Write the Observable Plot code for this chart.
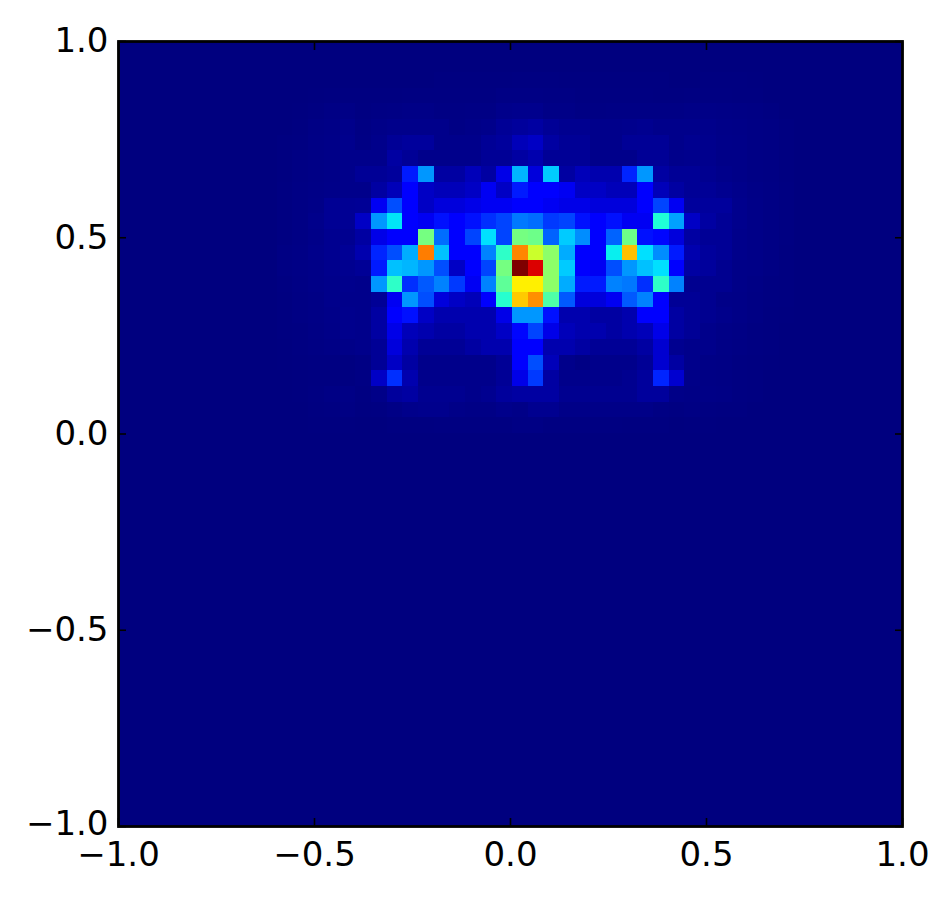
<!DOCTYPE html>
<html>
<head>
<meta charset="utf-8">
<style>html,body{margin:0;padding:0;background:#fff}svg{display:block}</style>
<script src="https://cdn.jsdelivr.net/npm/d3@7"></script>
<script src="https://cdn.jsdelivr.net/npm/@observablehq/plot@0.6"></script>
</head>
<body>
<div id="chart"></div>
<script>
const gridSize = 50;
const firstRow = 2;
const firstCol = 10;
// intensity (percent of maximum); columns 10..42, rows 2..24
const intensityRows = [
  [0,0,0,0,0, 0,0,0,0,0,.2,.2,.2,.2,.2,.3,.3,.3,.2,.2,.2,.2,.2,.2,.2,0,0, .2,.2,.2,.1,0,0,0],
  [0,0,.1,.2,.2, .2,.2,.2,.3,.3,.3,.3,.3,.3,.5,.5,.5,.4,.4,.3,.3,.3,.3,.3,.2,.2, .3,.3,.3,.2,.2,0,0],
  [0,.1,.3,.5,.6, .3,.4,.5,.7,.7,.4,.4,.5,.5,1,1.2,1.2,.7,.7,.4,.4,.5,.5,.5,.5,.5, .7,.7,.6,.5,.4,.3,0],
  [0,.2,.5,.7,1, .4,.8,1,1,1,1,.5,.8,1,2,2.5,3,2,1.5,1.5,1,1,1.2,1.5,1,1, 1,1,.8,.7,.5,.4,.2],
  [.2,.3,.6,.8,1.2, .5,1,2,2.5,2.5,1,1,1,2,2.5,5,6,3,2,2,1,1,2,2,2,1, 1.5,1.2,.9,.8,.5,.4,.2],
  [.2,.4,.6,.8,1, 1,1,3,2,1,1,1,1,2,2,3,4,2,2,2,1,1,1,2,2,1, 1.2,1.2,.8,.8,.5,.4,.2],
  [.2,.4,.6,.8,1, 2,2,2.5,15,27,3,3,5,3,9,30,8,32,3,5,4,4,16,27,3,2, 2,1.5,1,.8,.5,.4,.2],
  [.3,.5,.7,.9,1, 1,3,5,11,6,5,5,6,10,6,15,11,12,10,6,6,5,5,11,5,3, 2,2,1.5,1,.7,.5,.3],
  [.3,.5,.8,1.8,1.8, 2,10,20,12,6,8,8,9,10,10,12,12,10,9,9,8,8,8,12,19,10, 2.5,2.5,2.5,1.2,.8,.5,.3],
  [.3,.5,1,1.8,1.8, 6,27,35,12,10,14,12,14,17,19,24,23,18,19,14,12,14,10,10,39,28, 6,3,2,1.2,.8,.5,.3],
  [.3,.5,.9,1.5,1.5, 3,9,12,12,50,23,12,19,34,19,50,49,22,32,26,12,22,49,14,13,8, 3,2,2,1,.8,.5,.3],
  [.4,.6,1,1.5,2, 4,16,20,29,78,31,12,12,25,41,77,61,53,29,12,12,36,71,34,26,15, 4,2.5,2,1,.8,.5,.2],
  [.4,.6,.8,1.2,1.5, 2,15,31,30,27,20,6,11,19,50,100,92,53,32,12,10,20,27,31,34,12, 3,2.5,1.5,.8,.7,.4,.2],
  [.3,.5,.8,1,1.2, 1,27,41,17,21,25,18,10,25,47,66,66,53,29,15,15,25,24,17,41,25, 1.5,1.5,1.5,.8,.5,.3,.2],
  [.2,.4,.6,1,1, 1,2,10,27,20,8,6,5,12,40,70,76,45,21,8,8,10,21,25,12,2, 2,1.5,.8,.7,.4,.3,.2],
  [.2,.4,.6,.9,1.2, 1,3,11,14,6,4,4,4,4,9,27,27,14,4,4,3,3,4,12,12,3, 2,1.5,1,.7,.4,.2,.1],
  [.2,.3,.5,.8,1.2, 1,3,9,5,4,3,3,4,4,6,13,19,9,5,4,4,3,4,5,9,3, 2,1,.7,.5,.3,.2,0],
  [.1,.3,.4,.6,.8, 1,2,8,4,2,2,2,3,4,4,11,12,4,4,3,2,2,2,3,7,1.5, 1,1,.6,.4,.3,.2,0],
  [.1,.2,.3,.3,.2, .4,2,6,3,1,1,1,1,1,2,12,20,5,1,.5,1,1,1,2,7,3, 1,.6,.5,.3,.2,.1,0],
  [0,.1,.2,.2,.2, .4,6,17,4,1,1,1,1,1,2,9,18,3,1,1,1,1,1.5,2.5,16,7, .8,.5,.4,.3,.2,0,0],
  [0,.1,.3,.5,.6, .3,.8,2.5,3,1.5,1.5,1.5,1,1.5,2.5,3,3,3,1.5,1.5,1.5,1.5,1.5,2.5,2.5,.8, .6,.6,.5,.3,.2,0,0],
  [0,0,.2,.3,.4, .2,.3,.6,1,1.2,1.2,.8,.6,.6,1,.8,1.5,1.5,.8,.8,.8,.8,.8,.8,.4,.3, .4,.3,.2,.2,0,0,0],
  [0,0,.1,.1,.1, 0,0,.2,.2,.2,.3,.3,.3,.3,.3,.5,.5,.3,.3,.3,.3,.3,.2,.2,.2,0, .1,.1,0,0,0,0,0]
];
const jetStops = [0, 11, 12.5, 34, 35, 37.5, 64, 66, 89, 91, 100];
const jetColors = ["#00007f","#0000ff","#0000ff","#00e0ff","#00e5f7","#13ffe3","#e3ff13","#fff000","#ff1300","#e80000","#7f0000"];
const axisTicks = [-1, -0.5, 0, 0.5, 1];

const values = new Array(gridSize * gridSize).fill(0);
intensityRows.forEach((row, r) => row.forEach((v, c) => {
  values[(r + firstRow) * gridSize + c + firstCol] = v;
}));

const fmt = d3.format(".1f");
const tickStyle = {stroke: "#000", strokeWidth: 1.6, tickSize: -8, fill: "none", label: null, ticks: axisTicks};
const chart = Plot.plot({
  width: 952,
  height: 899,
  marginLeft: 118,
  marginRight: 50,
  marginTop: 41,
  marginBottom: 73,
  style: {fontFamily: "'DejaVu Sans'", fontSize: "34px", background: "#fff", color: "#000"},
  x: {domain: [-1, 1]},
  y: {domain: [-1, 1]},
  color: {type: "linear", domain: jetStops, range: jetColors, clamp: true},
  marks: [
    Plot.frame({fill: "#00007f", stroke: "none"}),
    Plot.raster(values, {
      width: gridSize, height: gridSize,
      x1: -0.9962, x2: 1.0038, y1: 1.0025, y2: -0.9975,
      imageRendering: "pixelated", clip: true
    }),
    Plot.axisX({...tickStyle, anchor: "bottom"}),
    Plot.axisX({...tickStyle, anchor: "top"}),
    Plot.axisY({...tickStyle, anchor: "left"}),
    Plot.axisY({...tickStyle, anchor: "right"}),
    Plot.axisX({anchor: "bottom", ticks: axisTicks, tickSize: 0, tickPadding: 15, tickFormat: fmt, label: null, fontSize: 34, fill: "#000"}),
    Plot.axisY({anchor: "left", ticks: axisTicks.slice(1), tickSize: 0, tickPadding: 10, tickFormat: fmt, label: null, fontSize: 34, fill: "#000"}),
    Plot.axisY({anchor: "left", ticks: axisTicks.slice(0, 1), tickSize: 0, tickPadding: 10, dy: -2, tickFormat: fmt, label: null, fontSize: 34, fill: "#000"}),
    Plot.frame({stroke: "#000", strokeWidth: 2.8})
  ]
});
document.getElementById("chart").append(chart);
</script>
</body>
</html>
